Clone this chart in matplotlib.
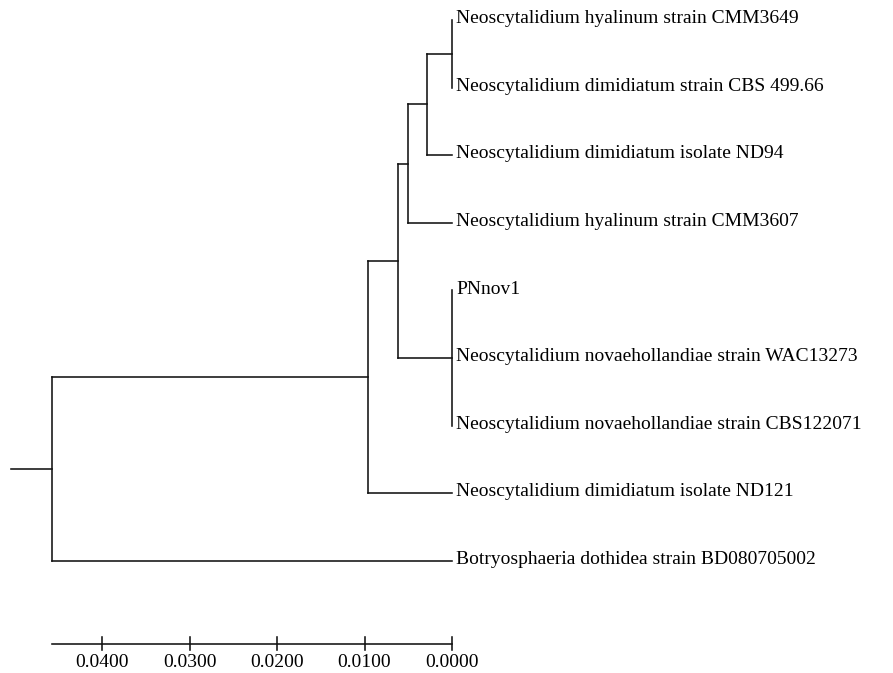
import matplotlib
matplotlib.use("Agg")
import matplotlib.pyplot as plt

# leaves, top to bottom
taxa = ["Neoscytalidium hyalinum strain CMM3649",
        "Neoscytalidium dimidiatum strain CBS 499.66",
        "Neoscytalidium dimidiatum isolate ND94",
        "Neoscytalidium hyalinum strain CMM3607",
        "PNnov1",
        "Neoscytalidium novaehollandiae strain WAC13273",
        "Neoscytalidium novaehollandiae strain CBS122071",
        "Neoscytalidium dimidiatum isolate ND121",
        "Botryosphaeria dothidea strain BD080705002"]
tip_len = [0.0, 0.0, 0.0029, 0.0050, 0.0, 0.0, 0.0, 0.0096, 0.0457]

# internal nodes: leaf members and branch length to parent (last one = root stub)
clade_members = [[0, 1], [0, 1, 2], [0, 1, 2, 3], [4, 5, 6],
                 [0, 1, 2, 3, 4, 5, 6], [0, 1, 2, 3, 4, 5, 6, 7],
                 [0, 1, 2, 3, 4, 5, 6, 7, 8]]
clade_len = [0.0029, 0.0021, 0.0012, 0.0062, 0.0034, 0.0361, 0.0047]

scale_ticks = [0.04, 0.03, 0.02, 0.01, 0.0]
scale_labels = ["0.0400", "0.0300", "0.0200", "0.0100", "0.0000"]

plt.rcParams['font.family'] = ['Liberation Serif', 'DejaVu Serif']
col = '#111111'
lw = 1.15
fs = 14

fig = plt.figure(figsize=(8.93, 6.73), dpi=100)
ax = fig.add_axes([0, 0, 1, 1])
ax.axis('off')

n = len(taxa)
sets = [set(m) for m in clade_members]

# parent of each clade = smallest clade that contains it
def parent_of(s):
    cands = [i for i, c in enumerate(sets) if s < c]
    if not cands:
        return None
    return min(cands, key=lambda i: len(sets[i]))

clade_parent = [parent_of(s) for s in sets]
tip_parent = [parent_of({i}) for i in range(n)]

# depth of each clade from root
depth = {}
def get_depth(i):
    if i in depth:
        return depth[i]
    p = clade_parent[i]
    depth[i] = 0.0 if p is None else get_depth(p) + clade_len[i]
    return depth[i]
for i in range(len(sets)):
    get_depth(i)
tip_depth = [depth[tip_parent[i]] + tip_len[i] for i in range(n)]
height = max(tip_depth)

# x as distance from tips
cx = {i: height - depth[i] for i in depth}
tx = [height - d for d in tip_depth]

# y positions: leaves are rows, clades midpoint of first/last child
cy = {}
def children(i):
    ch = [('t', k) for k in range(n) if tip_parent[k] == i]
    ch += [('c', k) for k in range(len(sets)) if clade_parent[k] == i]
    return ch
def ypos(kind, k):
    if kind == 't':
        return float(k)
    if k not in cy:
        ys = [ypos(*c) for c in children(k)]
        cy[k] = (min(ys) + max(ys)) / 2
    return cy[k]
for i in range(len(sets)):
    ypos('c', i)

# branches
for i in range(n):
    p = tip_parent[i]
    ax.plot([cx[p], tx[i]], [i, i], color=col, lw=lw)
    ax.annotate(taxa[i], (tx[i], i), xytext=(3, 1), textcoords='offset points',
                va='center', ha='left', fontsize=fs, color='black')
for i in range(len(sets)):
    p = clade_parent[i]
    x0 = cx[p] if p is not None else cx[i] + clade_len[i]
    ax.plot([x0, cx[i]], [cy[i], cy[i]], color=col, lw=lw)
    ys = [ypos(*c) for c in children(i)]
    ax.plot([cx[i], cx[i]], [min(ys), max(ys)], color=col, lw=lw)

# scale axis
ax_y = 9.23
ax.plot([height, 0.0], [ax_y, ax_y], color=col, lw=lw)
for t, lab in zip(scale_ticks, scale_labels):
    ax.plot([t, t], [ax_y - 0.11, ax_y + 0.09], color=col, lw=lw)
    ax.text(t, ax_y + 0.27, lab, ha='center', va='center', fontsize=fs)

ax.set_xlim(452 / 8750, (452 - 893) / 8750)
ax.set_ylim((673 - 20) / 67.6, -20 / 67.6)

fig.savefig("out.png", dpi=100, facecolor='white')
